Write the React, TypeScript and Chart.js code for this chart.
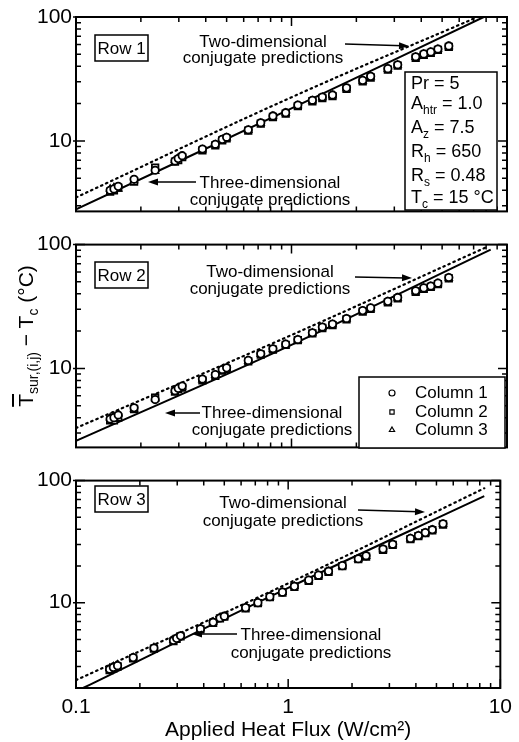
import React, { useEffect, useRef } from 'react';
import { Chart, registerables } from 'chart.js';
import * as helpers from 'chart.js/helpers';

Chart.register(...registerables);

const FONT = '"Liberation Sans", Arial, Helvetica, sans-serif';

// ---------------- data ----------------
const HEAT_FLUX = [0.144, 0.150, 0.157, 0.186, 0.233, 0.288, 0.298, 0.311, 0.386, 0.443, 0.477, 0.50, 0.63, 0.72, 0.82, 0.94, 1.07, 1.25, 1.39, 1.55, 1.80, 2.14, 2.33, 2.80, 3.11, 3.77, 4.11, 4.43, 4.78, 5.37];

const ROW1_COL1 = [4.0, 4.1, 4.3, 4.9, 5.8, 6.9, 7.2, 7.6, 8.6, 9.4, 10.3, 10.7, 12.3, 14.0, 15.9, 16.9, 19.5, 21.3, 22.6, 23.5, 26.8, 30.8, 33.2, 38.3, 41.2, 47.8, 50.4, 52.3, 55.2, 58.4];
const ROW1_COL2 = [3.9, 4.0, 4.2, 4.7, 6.1, 6.8, 7.0, 7.4, 8.4, 9.2, 10.1, 10.5, 12.1, 13.8, 15.6, 16.6, 19.1, 20.9, 22.2, 23.0, 26.3, 30.2, 32.5, 37.6, 40.5, 46.9, 49.5, 51.4, 54.3, 57.4];
const ROW1_COL3 = [4.1, 4.2, 4.1, 4.8, 5.7, 7.0, 7.3, 7.5, 8.5, 9.3, 10.2, 10.6, 12.2, 13.9, 15.8, 16.8, 19.3, 21.1, 22.4, 23.3, 26.5, 30.5, 32.9, 37.9, 40.9, 47.3, 50.0, 51.9, 54.8, 57.9];

const ROW2_COL1 = [3.9, 4.0, 4.2, 4.8, 5.6, 6.6, 6.9, 7.2, 8.2, 8.9, 9.8, 10.1, 11.6, 13.1, 14.4, 15.7, 17.1, 19.4, 21.6, 22.8, 25.3, 29.3, 30.8, 34.8, 37.4, 42.4, 44.7, 46.3, 48.8, 54.2];
const ROW2_COL2 = [3.8, 3.8, 4.0, 4.7, 5.8, 6.5, 6.8, 7.0, 8.0, 8.7, 9.6, 9.9, 11.4, 12.9, 14.2, 15.5, 16.9, 19.2, 21.2, 22.4, 24.9, 28.7, 30.2, 34.2, 36.8, 41.6, 43.9, 45.5, 48.0, 53.4];
const ROW2_COL3 = [4.0, 4.1, 4.3, 4.7, 5.7, 6.7, 7.0, 7.1, 8.1, 8.8, 9.7, 10.0, 11.5, 13.0, 14.3, 15.6, 17.0, 19.3, 21.4, 22.6, 25.1, 29.0, 30.5, 34.5, 37.1, 41.8, 44.3, 45.9, 48.4, 53.8];

const ROW3_COL1 = [2.85, 2.95, 3.05, 3.55, 4.25, 4.9, 5.1, 5.35, 6.1, 6.9, 7.5, 7.75, 9.1, 10.0, 11.2, 12.2, 13.6, 15.3, 16.8, 18.1, 20.1, 22.9, 24.2, 27.5, 30.1, 33.6, 35.5, 37.5, 39.6, 44.3];
const ROW3_COL2 = [2.8, 2.9, 3.0, 3.5, 4.2, 4.85, 5.05, 5.3, 6.05, 6.85, 7.45, 7.7, 9.0, 9.9, 11.1, 12.1, 13.5, 15.1, 16.6, 17.9, 19.9, 22.7, 23.8, 27.1, 29.7, 33.2, 35.1, 37.1, 39.2, 43.7];
const ROW3_COL3 = [2.9, 3.0, 3.1, 3.55, 4.3, 4.95, 5.15, 5.3, 6.15, 6.95, 7.55, 7.7, 9.1, 10.0, 11.2, 12.2, 13.6, 15.2, 16.7, 18.0, 20.0, 22.8, 24.0, 27.3, 29.9, 33.4, 35.3, 37.3, 39.4, 44.0];

// conjugate predictions (3-D solid, 2-D dotted)
const R1_3D_X = [0.1, 1, 7.8];
const R1_3D_Y = [2.8, 18.3, 100];
const R1_2D_X = [0.1, 1, 7.3];
const R1_2D_Y = [3.5, 22.5, 100];
const R2_3D_X = [0.1, 1, 8.4];
const R2_3D_Y = [2.6, 15.5, 91];
const R2_2D_X = [0.1, 1, 8.2];
const R2_2D_Y = [3.3, 18.6, 97];
const R3_3D_X = [0.108, 1, 8.4];
const R3_3D_Y = [2.0, 13.2, 74.6];
const R3_2D_X = [0.1, 1, 8.4];
const R3_2D_Y = [2.32, 14.4, 86.5];

const X_TICKS = [0.1, 1, 10];
const Y_TICKS = [10, 100];
const X_DECADES = [0.1, 1, 10];
const Y_DECADES = [1, 10, 100];
const Y_MIN = [2.7, 2.3, 2.0];
const Y_MAX = 100;
const X_MIN = 0.1;
const X_MAX = 10;

const COLUMN_LABELS = ['Column 1', 'Column 2', 'Column 3'];
const COLUMN_STYLES = ['circle', 'rect', 'triangle'];
const ROW_LABELS = ['Row 1', 'Row 2', 'Row 3'];
const TWO_D_TEXT = ['Two-dimensional', 'conjugate predictions'];
const THREE_D_TEXT = ['Three-dimensional', 'conjugate predictions'];
const X_TITLE = 'Applied Heat Flux (W/cm²)';

type Run = { t: string; sub?: boolean };
const PARAM_LINES: Run[][] = [
  [{ t: 'Pr = 5' }],
  [{ t: 'A' }, { t: 'htr', sub: true }, { t: ' = 1.0' }],
  [{ t: 'A' }, { t: 'z', sub: true }, { t: ' = 7.5' }],
  [{ t: 'R' }, { t: 'h', sub: true }, { t: ' = 650' }],
  [{ t: 'R' }, { t: 's', sub: true }, { t: ' = 0.48' }],
  [{ t: 'T' }, { t: 'c', sub: true }, { t: ' = 15 °C' }],
];

const ROW_DATA = [
  { cols: [ROW1_COL1, ROW1_COL2, ROW1_COL3], l3x: R1_3D_X, l3y: R1_3D_Y, l2x: R1_2D_X, l2y: R1_2D_Y },
  { cols: [ROW2_COL1, ROW2_COL2, ROW2_COL3], l3x: R2_3D_X, l3y: R2_3D_Y, l2x: R2_2D_X, l2y: R2_2D_Y },
  { cols: [ROW3_COL1, ROW3_COL2, ROW3_COL3], l3x: R3_3D_X, l3y: R3_3D_Y, l2x: R3_2D_X, l2y: R3_2D_Y },
];

// ---------------- layout (page pixels) ----------------
const W = 519;
const LEFT = 76;
const RIGHT = 507;
const PANELS = [
  { top: 0, height: 228, areaTop: 17, areaBottom: 215 },
  { top: 228, height: 236, areaTop: 242, areaBottom: 455 },
  { top: 464, height: 278, areaTop: 472, areaBottom: 688 },
];

const ANNOT: any[] = [
  {
    rowBox: [95, 35, 148, 61],
    twoD: { cx: 263, y1: 42, y2: 58, arrow: [345, 44, 409, 46] },
    threeD: { cx: 270, y1: 183, y2: 200, arrow: [196, 182, 148, 182] },
    params: { box: [405, 72, 497, 210], x: 411, ys: [84, 104, 128, 152, 176, 198] },
  },
  {
    rowBox: [95, 262, 148, 288],
    twoD: { cx: 270, y1: 272, y2: 289, arrow: [355, 277, 412, 278] },
    threeD: { cx: 272, y1: 413, y2: 430, arrow: [200, 413, 165, 413] },
    legend: { box: [359, 377, 505, 448], mx: 392, tx: 415, ys: [393, 412, 430] },
  },
  {
    rowBox: [95, 486, 148, 512],
    twoD: { cx: 283, y1: 503, y2: 521, arrow: [358, 510, 425, 512] },
    threeD: { cx: 311, y1: 635, y2: 653, arrow: [237, 634, 192, 634] },
  },
];

// ---------------- drawing helpers ----------------
function drawArrow(ctx: CanvasRenderingContext2D, x1: number, y1: number, x2: number, y2: number) {
  const a = Math.atan2(y2 - y1, x2 - x1);
  const L = 10, Wd = 3.5;
  ctx.beginPath();
  ctx.moveTo(x1, y1);
  ctx.lineTo(x2 - 6 * Math.cos(a), y2 - 6 * Math.sin(a));
  ctx.stroke();
  ctx.beginPath();
  ctx.moveTo(x2, y2);
  ctx.lineTo(x2 - L * Math.cos(a) + Wd * Math.sin(a), y2 - L * Math.sin(a) - Wd * Math.cos(a));
  ctx.lineTo(x2 - L * Math.cos(a) - Wd * Math.sin(a), y2 - L * Math.sin(a) + Wd * Math.cos(a));
  ctx.closePath();
  ctx.fill();
}

function drawRuns(ctx: CanvasRenderingContext2D, x: number, y: number, runs: Run[], size: number) {
  let cx = x;
  for (const r of runs) {
    const fs = r.sub ? Math.round(size * 0.68) : size;
    ctx.font = `${fs}px ${FONT}`;
    ctx.fillText(r.t, cx, r.sub ? y + size * 0.38 : y);
    cx += ctx.measureText(r.t).width;
  }
}

const frameTicks = {
  id: 'frameTicks',
  afterDatasetsDraw(chart: any) {
    const { ctx, chartArea: a, scales } = chart;
    const xs = scales.x, ys = scales.y;
    ctx.save();
    ctx.strokeStyle = '#000';
    ctx.lineWidth = 1.5;
    ctx.beginPath();
    for (const d of X_DECADES) {
      for (let m = 1; m <= 9; m++) {
        const v = d * m;
        if (v < xs.min * 0.999 || v > xs.max * 1.001) continue;
        const px = xs.getPixelForValue(v);
        const L = m === 1 ? 9 : 5;
        ctx.moveTo(px, a.bottom); ctx.lineTo(px, a.bottom - L);
        ctx.moveTo(px, a.top); ctx.lineTo(px, a.top + L);
      }
    }
    for (const d of Y_DECADES) {
      for (let m = 1; m <= 9; m++) {
        const v = d * m;
        if (v < ys.min * 0.999 || v > ys.max * 1.001) continue;
        const py = ys.getPixelForValue(v);
        const L = m === 1 ? 9 : 5;
        ctx.moveTo(a.left - (m === 1 ? 3 : 0), py); ctx.lineTo(a.left + L, py);
        ctx.moveTo(a.right, py); ctx.lineTo(a.right - L, py);
      }
    }
    ctx.stroke();
    ctx.lineWidth = 2;
    ctx.strokeRect(a.left, a.top, a.right - a.left, a.bottom - a.top);
    ctx.restore();
  },
};

const annotations = {
  id: 'annotations',
  afterDraw(chart: any, _args: any, opts: any) {
    const { ctx } = chart;
    const an = ANNOT[opts.idx];
    const off = PANELS[opts.idx].top;
    ctx.save();
    ctx.fillStyle = '#000';
    ctx.strokeStyle = '#000';
    ctx.textBaseline = 'middle';
    const [bx1, by1, bx2, by2] = an.rowBox;
    ctx.lineWidth = 1.5;
    ctx.fillStyle = '#fff';
    ctx.fillRect(bx1, by1 - off, bx2 - bx1, by2 - by1);
    ctx.strokeRect(bx1, by1 - off, bx2 - bx1, by2 - by1);
    ctx.fillStyle = '#000';
    ctx.font = `17px ${FONT}`;
    ctx.textAlign = 'center';
    ctx.fillText(ROW_LABELS[opts.idx], (bx1 + bx2) / 2, (by1 + by2) / 2 - off + 1);
    ctx.fillText(TWO_D_TEXT[0], an.twoD.cx, an.twoD.y1 - off);
    ctx.fillText(TWO_D_TEXT[1], an.twoD.cx, an.twoD.y2 - off);
    ctx.fillText(THREE_D_TEXT[0], an.threeD.cx, an.threeD.y1 - off);
    ctx.fillText(THREE_D_TEXT[1], an.threeD.cx, an.threeD.y2 - off);
    ctx.lineWidth = 1.5;
    const a2 = an.twoD.arrow;
    drawArrow(ctx, a2[0], a2[1] - off, a2[2], a2[3] - off);
    const a3 = an.threeD.arrow;
    drawArrow(ctx, a3[0], a3[1] - off, a3[2], a3[3] - off);
    if (an.params) {
      const [x1, y1, x2, y2] = an.params.box;
      ctx.lineWidth = 1.5;
      ctx.fillStyle = '#fff';
      ctx.fillRect(x1, y1 - off, x2 - x1, y2 - y1);
      ctx.strokeRect(x1, y1 - off, x2 - x1, y2 - y1);
      ctx.fillStyle = '#000';
      ctx.textAlign = 'left';
      PARAM_LINES.forEach((runs, i) => drawRuns(ctx, an.params.x, an.params.ys[i] - off, runs, 18));
    }
    if (an.legend) {
      const [x1, y1, x2, y2] = an.legend.box;
      ctx.lineWidth = 1.5;
      ctx.fillStyle = '#fff';
      ctx.fillRect(x1, y1 - off, x2 - x1, y2 - y1);
      ctx.strokeRect(x1, y1 - off, x2 - x1, y2 - y1);
      ctx.textAlign = 'left';
      chart.data.datasets.slice(0, 3).forEach((ds: any, i: number) => {
        ctx.lineWidth = 1.2;
        ctx.strokeStyle = '#000';
        ctx.fillStyle = '#fff';
        (helpers as any).drawPoint(ctx, { pointStyle: ds.pointStyle, radius: 3, borderWidth: 1.2, rotation: 0 }, an.legend.mx, an.legend.ys[i] - off);
        ctx.fillStyle = '#000';
        ctx.font = `17px ${FONT}`;
        ctx.fillText(ds.label, an.legend.tx, an.legend.ys[i] - off);
      });
    }
    ctx.restore();
  },
};

function Panel({ idx }: { idx: number }) {
  const ref = useRef<HTMLCanvasElement>(null);
  const p = PANELS[idx];
  useEffect(() => {
    const isBottom = idx === 2;
    const rd = ROW_DATA[idx];
    const datasets: any[] = rd.cols.map((col, c) => ({
      label: COLUMN_LABELS[c],
      data: HEAT_FLUX.map((x, i) => ({ x, y: col[i] })),
      pointStyle: COLUMN_STYLES[c],
      pointRadius: c === 1 ? 4.6 : 3.7,
      pointBorderWidth: 1.8,
      pointBackgroundColor: '#fff',
      pointBorderColor: '#000',
      showLine: false,
    }));
    datasets.push({
      label: 'Three-dimensional conjugate predictions',
      data: rd.l3x.map((x, i) => ({ x, y: rd.l3y[i] })),
      showLine: true,
      borderColor: '#000',
      borderWidth: 2,
      pointRadius: 0,
      tension: 0.4,
    });
    datasets.push({
      label: 'Two-dimensional conjugate predictions',
      data: rd.l2x.map((x, i) => ({ x, y: rd.l2y[i] })),
      showLine: true,
      borderColor: '#000',
      borderWidth: 2.2,
      borderDash: [1.5, 4],
      borderCapStyle: 'round',
      pointRadius: 0,
      tension: 0.4,
    });
    const chart = new Chart(ref.current as HTMLCanvasElement, {
      type: 'scatter',
      data: { datasets },
      plugins: [frameTicks, annotations],
      options: {
        responsive: false,
        animation: false,
        events: [],
        layout: {
          padding: {
            top: p.areaTop - p.top,
            bottom: isBottom ? 0 : p.top + p.height - p.areaBottom,
            left: 0,
            right: W - RIGHT,
          },
        },
        plugins: {
          legend: { display: false },
          tooltip: { enabled: false },
          annotations: { idx },
        } as any,
        scales: {
          x: {
            type: 'logarithmic',
            min: X_MIN,
            max: X_MAX,
            afterFit: (s: any) => { s.height = isBottom ? p.top + p.height - p.areaBottom : 0; },
            afterBuildTicks: (s: any) => { s.ticks = X_TICKS.map((v) => ({ value: v })); },
            ticks: {
              display: isBottom,
              autoSkip: false,
              maxRotation: 0,
              padding: 7,
              color: '#000',
              font: { size: 21, family: FONT },
              callback: (v: any) => String(v),
            },
            grid: { display: false, drawTicks: false },
            border: { display: false },
            title: {
              display: isBottom,
              text: X_TITLE,
              color: '#000',
              font: { size: 21, family: FONT, lineHeight: 1.0 },
              padding: { top: 0, bottom: 1 },
            },
          },
          y: {
            type: 'logarithmic',
            min: Y_MIN[idx],
            max: Y_MAX,
            afterFit: (s: any) => { s.width = LEFT; },
            afterBuildTicks: (s: any) => { s.ticks = Y_TICKS.map((v) => ({ value: v })); },
            ticks: {
              padding: 4,
              color: '#000',
              font: { size: 21, family: FONT },
              callback: (v: any) => String(v),
            },
            grid: { display: false, drawTicks: false },
            border: { display: false },
          },
        } as any,
      },
    } as any);
    return () => chart.destroy();
  }, [idx]);
  return (
    <canvas
      ref={ref}
      width={W}
      height={p.height}
      style={{ position: 'absolute', left: 0, top: p.top, width: W, height: p.height }}
    />
  );
}

export default function App() {
  const sub: React.CSSProperties = { fontSize: 14, verticalAlign: '-5px', lineHeight: 0 };
  return (
    <div style={{ position: 'absolute', left: 0, top: 0, width: W, height: 742, background: '#fff', overflow: 'hidden' }}>
      {PANELS.map((_, i) => <Panel key={i} idx={i} />)}
      <div
        style={{
          position: 'absolute',
          left: 26 - 110,
          top: 336 - 15,
          width: 220,
          height: 30,
          lineHeight: '30px',
          transform: 'rotate(-90deg)',
          textAlign: 'center',
          whiteSpace: 'nowrap',
          fontFamily: FONT,
          fontSize: 21,
          color: '#000',
        }}
      >
        <span style={{ textDecoration: 'overline' }}>T</span>
        <span style={sub}>sur,(i,j)</span> − T<span style={sub}>c</span> (°C)
      </div>
    </div>
  );
}
